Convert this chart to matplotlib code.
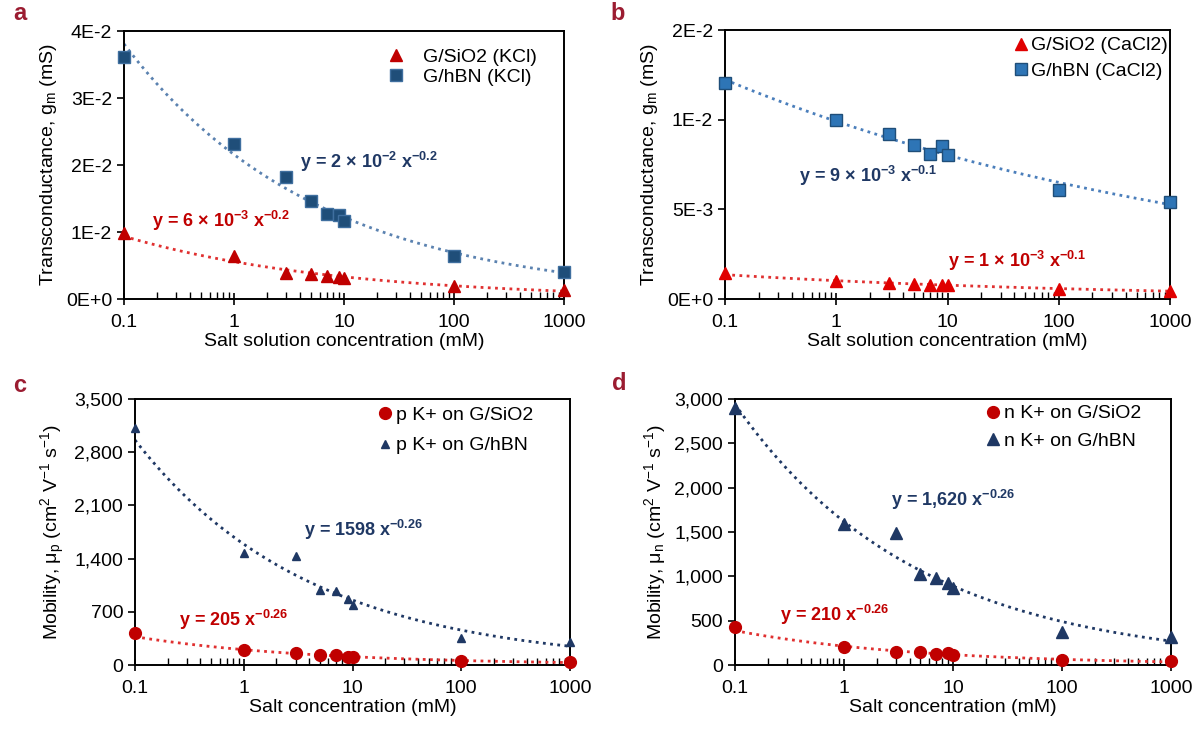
import numpy as np
import matplotlib
matplotlib.use("Agg")
import matplotlib.pyplot as plt
from matplotlib.ticker import FixedLocator, FixedFormatter, LogLocator, NullFormatter

plt.rcParams["font.family"] = ["Liberation Sans", "DejaVu Sans"]
plt.rcParams["mathtext.fontset"] = "custom"
plt.rcParams["mathtext.rm"] = "Liberation Sans"
plt.rcParams["mathtext.it"] = "Liberation Sans:italic"
plt.rcParams["mathtext.bf"] = "Liberation Sans:bold"

# salt concentration (mM), shared by all panels
conc = [0.1, 1, 3, 5, 7, 9, 10, 100, 1000]

# panel a: transconductance with KCl (mS)
gm_sio2_kcl = [0.0098, 0.00645, 0.0039, 0.0038, 0.0034, 0.0033, 0.0032, 0.0019, 0.0013]
gm_hbn_kcl = [0.0362, 0.0232, 0.0182, 0.0146, 0.0127, 0.0125, 0.0116, 0.00645, 0.0041]

# panel b: transconductance with CaCl2 (mS)
gm_sio2_cacl2 = [0.00143, 0.00098, 0.00089, 0.00083, 0.0008, 0.00078, 0.00078, 0.00056, 0.00046]
gm_hbn_cacl2 = [0.01204, 0.00996, 0.0092, 0.00857, 0.00806, 0.00852, 0.00802, 0.0061, 0.0054]

# panel c: hole mobility (cm2 V-1 s-1)
mup_sio2 = [415, 192, 153, 131, 127, 109, 100, 48, 39]
mup_hbn = [3116, 1480, 1436, 991, 969, 873, 786, 349, 301]

# panel d: electron mobility (cm2 V-1 s-1)
mun_sio2 = [426, 202, 146, 146, 127, 131, 112, 52, 41]
mun_hbn = [2899, 1586, 1493, 1025, 980, 924, 868, 370, 318]

x_ticks = [0.1, 1, 10, 100, 1000]
x_ticklabels = ["0.1", "1", "10", "100", "1000"]

a_yticks = [0, 0.01, 0.02, 0.03, 0.04]
a_ylabels = ["0E+0", "1E-2", "2E-2", "3E-2", "4E-2"]
b_yticks = [0, 0.005, 0.01, 0.015]
b_ylabels = ["0E+0", "5E-3", "1E-2", "2E-2"]
c_yticks = [0, 700, 1400, 2100, 2800, 3500]
c_ylabels = ["0", "700", "1,400", "2,100", "2,800", "3,500"]
d_yticks = [0, 500, 1000, 1500, 2000, 2500, 3000]
d_ylabels = ["0", "500", "1,000", "1,500", "2,000", "2,500", "3,000"]

RED = "#c00000"
NAVY = "#1f3864"
LETTER = "#9b1c31"
FS = 14

fig = plt.figure(figsize=(12, 7.34), dpi=100)
ax_a = fig.add_axes([0.1033, 0.5926, 0.3667, 0.3651])
ax_b = fig.add_axes([0.6042, 0.5926, 0.3708, 0.3665])
ax_c = fig.add_axes([0.1125, 0.0940, 0.3625, 0.3624])
ax_d = fig.add_axes([0.6125, 0.0940, 0.3633, 0.3624])


def trend(ax, x, y, color):
    # power-law trendline, fitted in log space like Excel does
    k, b = np.polyfit(np.log10(x), np.log10(y), 1)
    xs = np.logspace(-1, 3, 300)
    ax.plot(xs, 10 ** b * xs ** k, ls=(0, (1, 1.6)), lw=2, color=color, zorder=2)


def style(ax, yticks, ylabels, xlabel, ylabel):
    ax.set_xscale("log")
    ax.set_xlim(0.1, 1000)
    ax.set_ylim(yticks[0], yticks[-1])
    ax.xaxis.set_major_locator(FixedLocator(x_ticks))
    ax.xaxis.set_major_formatter(FixedFormatter(x_ticklabels))
    ax.xaxis.set_minor_locator(LogLocator(base=10, subs=np.arange(2, 10)))
    ax.xaxis.set_minor_formatter(NullFormatter())
    ax.yaxis.set_major_locator(FixedLocator(yticks))
    ax.yaxis.set_major_formatter(FixedFormatter(ylabels))
    ax.tick_params(axis="x", which="major", direction="inout", length=8, width=1.2,
                   labelsize=FS, pad=7, top=False)
    ax.tick_params(axis="x", which="minor", direction="in", length=5, width=1, top=False)
    ax.tick_params(axis="y", which="major", direction="out", length=5, width=1.2,
                   labelsize=FS, right=False)
    for s in ax.spines.values():
        s.set_linewidth(1.4)
    ax.set_xlabel(xlabel, fontsize=FS, labelpad=1)
    ax.set_ylabel(ylabel, fontsize=FS, labelpad=5)


def legend(ax, x, y, pad, spacing):
    ax.legend(loc="upper left", bbox_to_anchor=(x, y), frameon=False, fontsize=FS,
              borderpad=0, borderaxespad=0, handlelength=0.8,
              handletextpad=pad, labelspacing=spacing)


# ---- panel a
trend(ax_a, conc, gm_hbn_kcl, "#5b82b0")
trend(ax_a, conc, gm_sio2_kcl, "#e03030")
ax_a.plot(conc, gm_sio2_kcl, "^", ms=8, color=RED, mec=RED, ls="none",
          label="G/SiO2 (KCl)", zorder=3, clip_on=False)
ax_a.plot(conc, gm_hbn_kcl, "s", ms=8, color="#1f4e79", mec="#3f6f9f", ls="none",
          label="G/hBN (KCl)", zorder=3, clip_on=False)
ax_a.text(4.0, 0.0205, r"y = 2 × 10$\mathbf{^{-2}}$ x$\mathbf{^{-0.2}}$",
          color=NAVY, fontsize=13, fontweight="bold", va="center")
ax_a.text(0.18, 0.0117, r"y = 6 × 10$\mathbf{^{-3}}$ x$\mathbf{^{-0.2}}$",
          color=RED, fontsize=13, fontweight="bold", va="center")
style(ax_a, a_yticks, a_ylabels, "Salt solution concentration (mM)",
      r"Transconductance, g$\mathregular{_m}$ (mS)")
legend(ax_a, 0.600, 0.935, 1.0, 0.1)

# ---- panel b
trend(ax_b, conc, gm_hbn_cacl2, "#4a7ebb")
trend(ax_b, conc, gm_sio2_cacl2, "#e03030")
ax_b.plot(conc, gm_sio2_cacl2, "^", ms=8, color="#e00000", mec="#e00000", ls="none",
          label="G/SiO2 (CaCl2)", zorder=3, clip_on=False)
ax_b.plot(conc, gm_hbn_cacl2, "s", ms=9, color="#2e75b6", mec="#1f4e79", ls="none",
          label="G/hBN (CaCl2)", zorder=3, clip_on=False)
ax_b.text(0.46, 0.00685, r"y = 9 × 10$\mathbf{^{-3}}$ x$\mathbf{^{-0.1}}$",
          color=NAVY, fontsize=13, fontweight="bold", va="center")
ax_b.text(10, 0.00213, r"y = 1 × 10$\mathbf{^{-3}}$ x$\mathbf{^{-0.1}}$",
          color=RED, fontsize=13, fontweight="bold", va="center")
style(ax_b, b_yticks, b_ylabels, "Salt solution concentration (mM)",
      r"Transconductance, g$\mathregular{_m}$ (mS)")
legend(ax_b, 0.648, 0.975, 0.12, 0.4)

# ---- panel c
trend(ax_c, conc, mup_hbn, NAVY)
trend(ax_c, conc, mup_sio2, "#e03030")
ax_c.plot(conc, mup_sio2, "o", ms=8.5, color=RED, mec=RED, ls="none",
          label="p K+ on G/SiO2", zorder=3, clip_on=False)
ax_c.plot(conc, mup_hbn, "^", ms=6, color=NAVY, mec=NAVY, ls="none",
          label="p K+ on G/hBN", zorder=3, clip_on=False)
ax_c.text(3.6, 1776, r"y = 1598 x$\mathbf{^{-0.26}}$",
          color=NAVY, fontsize=13, fontweight="bold", va="center")
ax_c.text(0.255, 598, r"y = 205 x$\mathbf{^{-0.26}}$",
          color=RED, fontsize=13, fontweight="bold", va="center")
style(ax_c, c_yticks, c_ylabels, "Salt concentration (mM)",
      r"Mobility, μ$\mathregular{_p}$ (cm$\mathregular{^2}$ V$\mathregular{^{-1}}$ s$\mathregular{^{-1}}$)")
legend(ax_c, 0.556, 0.972, 0.19, 0.65)

# ---- panel d
trend(ax_d, conc, mun_hbn, NAVY)
trend(ax_d, conc, mun_sio2, "#e03030")
ax_d.plot(conc, mun_sio2, "o", ms=8.5, color=RED, mec=RED, ls="none",
          label="n K+ on G/SiO2", zorder=3, clip_on=False)
ax_d.plot(conc, mun_hbn, "^", ms=8, color=NAVY, mec=NAVY, ls="none",
          label="n K+ on G/hBN", zorder=3, clip_on=False)
ax_d.text(2.7, 1859, r"y = 1,620 x$\mathbf{^{-0.26}}$",
          color=NAVY, fontsize=13, fontweight="bold", va="center")
ax_d.text(0.26, 569, r"y = 210 x$\mathbf{^{-0.26}}$",
          color=RED, fontsize=13, fontweight="bold", va="center")
style(ax_d, d_yticks, d_ylabels, "Salt concentration (mM)",
      r"Mobility, μ$\mathregular{_n}$ (cm$\mathregular{^2}$ V$\mathregular{^{-1}}$ s$\mathregular{^{-1}}$)")
legend(ax_d, 0.574, 0.978, 0.16, 0.5)

# panel letters
for letter, (px, py) in zip("abcd", [(13, 14), (610, 14), (13, 386), (612, 383)]):
    fig.text(px / 1200, 1 - py / 734, letter, fontsize=17, fontweight="bold",
             color=LETTER, ha="left", va="center")

fig.savefig("out.png", dpi=100)
